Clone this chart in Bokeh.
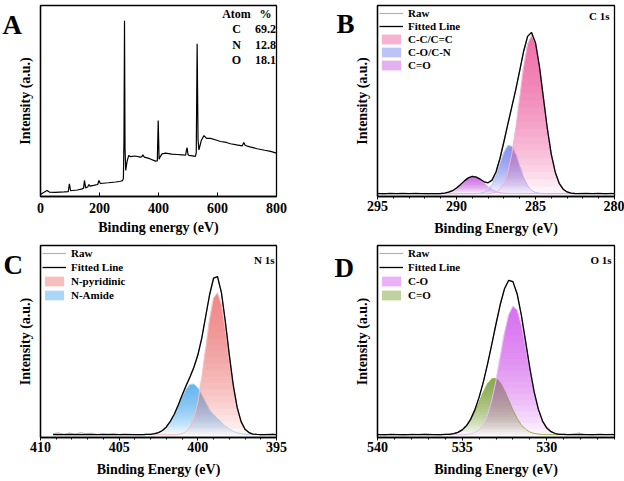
import numpy as np
from bokeh.plotting import figure
from bokeh.layouts import column, row
from bokeh.models import (Range1d, Label, Legend, LegendItem, FixedTicker,
                          SingleIntervalTicker)
from bokeh.embed import file_html
from bokeh.resources import INLINE

FONT = "Liberation Serif"

# ---------------- Panel A: survey spectrum ----------------
survey_be = [0, 8, 22, 30, 50, 80, 94, 98, 102, 125, 141, 146, 149, 153, 160, 164, 168, 180, 194, 198,
             203, 230, 255, 271, 278, 281, 283, 284.8, 286.5, 289, 293, 299, 305, 320, 339, 344, 347, 352, 370, 390,
             396, 399, 402, 405, 412, 424, 445, 463, 480, 492, 495, 497, 500, 503, 515, 525, 528, 531, 534, 537,
             545, 554, 563, 576, 595, 610, 630, 644, 665, 684, 689, 694, 710, 734, 760, 780, 800]
survey_int = [1.0, 1.8, 3.1, 2.3, 2.2, 2.4, 2.6, 6.6, 3.0, 3.4, 4.0, 4.4, 8.4, 4.5, 5.0, 6.3, 5.4, 5.8, 6.3, 8.4,
              6.8, 7.2, 7.6, 8.0, 8.3, 9.5, 30, 92, 25, 13.6, 18, 21.5, 20.9, 21.2, 20.6, 20.9, 21.8, 20.6, 19.8, 18.5,
              18.6, 39.8, 19.5, 20.6, 22.3, 22.7, 22.2, 22.0, 21.8, 21.6, 24.5, 25.5, 22.0, 21.5, 21.3, 21.0, 23.0, 80, 30, 24.4,
              29.3, 31.9, 30.4, 30.4, 29.6, 28.8, 28.3, 27.6, 27.0, 26.5, 28.3, 26.7, 26.0, 25.0, 24.2, 23.6, 22.7]
atoms = ["C", "N", "O"]
atom_pct = ["69.2", "12.8", "18.1"]

# ---------------- Panel B: C 1s ----------------
c1s_be = [292.0, 291.75, 291.5, 291.25, 291.0, 290.75, 290.5, 290.25, 290.0, 289.75, 289.5, 289.25, 289.0,
          288.75, 288.5, 288.25, 288.0, 287.75, 287.5, 287.25, 287.0, 286.75, 286.5, 286.25, 286.0, 285.75,
          285.5, 285.25, 285.0, 284.75, 284.5, 284.25, 284.0, 283.75, 283.5, 283.25, 283.0, 282.75, 282.5]
c1s_cc = [0, 0, 0, 0, 0, 0, 0, 0, 0, 0, 0, 0, 0, 0, 0, 0, 0, 0.3, 0.9, 2.4, 5.5, 11.4, 20.9, 34.5, 50.9, 67.3,
          79.5, 84.0, 79.5, 67.3, 50.9, 34.5, 20.9, 11.4, 5.5, 2.4, 0.9, 0.3, 0.1]
c1s_co = [0, 0, 0, 0, 0, 0, 0, 0, 0, 0, 0, 0, 0, 0, 0.2, 0.7, 2.1, 4.8, 9.5, 15.8, 21.9, 25.6, 25.2, 20.8, 14.5,
          8.4, 4.1, 1.7, 0.6, 0.2, 0, 0, 0, 0, 0, 0, 0, 0, 0]
c1s_cdo = [0, 0, 0, 0, 0.1, 0.3, 0.8, 1.6, 3.0, 4.8, 6.8, 8.4, 9.2, 8.8, 7.5, 5.6, 3.7, 2.1, 1.1, 0.5, 0.2,
           0, 0, 0, 0, 0, 0, 0, 0, 0, 0, 0, 0, 0, 0, 0, 0, 0, 0]
c1s_raw_left_be = [295.0, 294.6, 294.2, 293.8, 293.4, 293.0, 292.6, 292.25]
c1s_raw_left = [0.3, -0.2, 0.4, 0.0, 0.5, 0.1, 0.4, 0.1]
c1s_raw_right_be = [282.25, 281.8, 281.4, 281.0, 280.6, 280.2, 280.0]
c1s_raw_right = [0.2, 0.5, 0.0, 0.4, -0.1, 0.3, 0.2]

# ---------------- Panel C: N 1s ----------------
n1s_be = [404.0, 403.75, 403.5, 403.25, 403.0, 402.75, 402.5, 402.25, 402.0, 401.75, 401.5, 401.25, 401.0,
          400.75, 400.5, 400.25, 400.0, 399.75, 399.5, 399.25, 399.0, 398.75, 398.5, 398.25, 398.0, 397.75,
          397.5, 397.25, 397.0, 396.75, 396.5, 396.25, 396.0, 395.75]
n1s_pyr = [0, 0, 0, 0, 0, 0, 0, 0, 0, 0, 0, 0.2, 0.6, 1.6, 3.9, 8.8, 17.3, 30.0, 45.6, 61.1, 72.2, 75.0, 68.6,
           55.2, 39.2, 24.4, 13.4, 6.4, 2.7, 1.1, 0.3, 0.1, 0, 0]
n1s_amide = [0, 0, 0, 0.1, 0.2, 0.5, 1.1, 2.2, 4.1, 7.0, 10.8, 15.4, 20.2, 24.2, 26.6, 26.8, 24.8, 21.0, 17.0,
             13.0, 10.5, 8.5, 6.5, 4.5, 3.0, 1.8, 1.0, 0.5, 0.2, 0, 0, 0, 0, 0]
n1s_raw_left_be = [409.2, 408.85, 408.5, 408.15, 407.8, 407.45, 407.1, 406.75, 406.4, 406.05, 405.7, 405.35,
                   405.0, 404.65, 404.3]
n1s_raw_left = [0.4, 0.9, 0.2, 0.8, 0.3, 1.0, 0.5, 0.7, 0.1, 0.6, 0.3, 0.5, 0.1, 0.4, 0.2]
n1s_raw_right_be = [395.5, 395.25, 395.0]
n1s_raw_right = [0.3, 0.6, 0.2]

# ---------------- Panel D: O 1s ----------------
o1s_be = [536.5, 536.25, 536.0, 535.75, 535.5, 535.25, 535.0, 534.75, 534.5, 534.25, 534.0, 533.75, 533.5,
          533.25, 533.0, 532.75, 532.5, 532.25, 532.0, 531.75, 531.5, 531.25, 531.0, 530.75, 530.5, 530.25,
          530.0, 529.75, 529.5, 529.25, 529.0, 528.75]
o1s_co = [0, 0, 0, 0, 0, 0, 0, 0.1, 0.4, 1.1, 2.6, 5.4, 10.4, 18.2, 28.7, 41.2, 53.7, 63.4, 67.9, 65.9, 58.0,
          46.4, 33.6, 22.1, 13.2, 7.1, 3.5, 1.6, 0.6, 0.2, 0.1, 0]
o1s_cdo = [0, 0, 0.1, 0.2, 0.6, 1.2, 2.5, 4.6, 7.7, 12.0, 17.1, 22.4, 26.9, 29.5, 29.8, 27.6, 23.4, 18.2, 13.0,
           8.5, 5.1, 2.8, 1.4, 0.7, 0.3, 0.1, 0, 0, 0, 0, 0, 0]
o1s_raw_left_be = [540.0, 539.6, 539.2, 538.8, 538.4, 538.0, 537.6, 537.2, 536.8]
o1s_raw_left = [0.2, -0.3, 0.4, 0.0, -0.2, 0.3, 0.1, 0.5, 0.2]
o1s_raw_right_be = [528.5, 528.1, 527.7, 527.3, 526.9, 526.5, 526.1]
o1s_raw_right = [0.3, 0.8, 0.1, -0.2, 0.4, 0.0, 0.3]


def make_fig(xr, yr, fw, fh, bl, br, bt, bb, interval, minor, tick_in):
    p = figure(frame_width=fw, frame_height=fh, x_range=Range1d(*xr), y_range=Range1d(*yr),
               output_backend="svg", toolbar_location=None,
               min_border_left=bl, min_border_right=br, min_border_top=bt, min_border_bottom=bb)
    p.grid.visible = False
    p.background_fill_color = "white"
    p.border_fill_color = "white"
    p.outline_line_color = "black"
    p.outline_line_width = 1.3
    p.outline_line_alpha = 1.0
    xa = p.xaxis[0]
    xa.ticker = SingleIntervalTicker(interval=interval, num_minor_ticks=minor)
    xa.axis_line_width = 1.3
    xa.major_label_text_font = FONT
    xa.major_label_text_font_style = "bold"
    xa.major_label_text_font_size = "14px"
    xa.major_label_text_color = "black"
    xa.axis_label_text_font = FONT
    xa.axis_label_text_font_style = "bold"
    xa.axis_label_text_font_size = "14px"
    xa.axis_label_text_color = "black"
    if tick_in:
        xa.major_tick_in = 4
        xa.major_tick_out = 0
        xa.minor_tick_line_color = None
        xa.major_label_standoff = 6
        xa.axis_label_standoff = 4
    else:
        xa.major_tick_in = 0
        xa.major_tick_out = 3
        xa.minor_tick_in = 0
        xa.minor_tick_out = 2
        xa.major_label_standoff = 1
        xa.axis_label_standoff = 7
    ya = p.yaxis[0]
    ya.ticker = FixedTicker(ticks=[])
    ya.major_label_text_font_size = "0px"
    ya.major_label_standoff = 0
    ya.major_tick_in = 0
    ya.major_tick_out = 0
    ya.minor_tick_in = 0
    ya.minor_tick_out = 0
    ya.axis_line_width = 1.3
    ya.axis_label = "Intensity (a.u.)"
    ya.axis_label_text_font = FONT
    ya.axis_label_text_font_style = "bold"
    ya.axis_label_text_font_size = "14px"
    ya.axis_label_text_color = "black"
    ya.axis_label_standoff = 8
    p._geom = (bl, bt, fw, fh, xr, yr)
    return p


def add_text(p, text, x, y, size, align="left", baseline="alphabetic"):
    p.add_layout(Label(x=x, y=y, x_units="screen", y_units="screen", text=text,
                       text_font=FONT, text_font_style="bold", text_font_size=size,
                       text_align=align, text_baseline=baseline, text_color="black"))


def add_panel_letter(p, letter, px, py, side):
    # px, py: canvas pixel position (relative to the figure) of the letter's left / baseline
    bl, bt, fw, fh, xr, yr = p._geom
    x = xr[0] + (px - bl) / fw * (xr[1] - xr[0])
    y = yr[0] + (bt + fh - py) / fh * (yr[1] - yr[0])
    p.add_layout(Label(x=x, y=y, text=letter, text_font=FONT, text_font_style="bold",
                       text_font_size="27px", text_align="left", text_baseline="alphabetic",
                       text_color="black"), side)


def add_component(p, x, y, color, line_color, n=22, alpha=0.07):
    ya = np.asarray(y, dtype=float)
    h = ya.max()
    layers = []
    for i in range(n):
        t = h * i / n
        r = p.varea(x=x, y1=t, y2=np.maximum(ya, t), fill_color=color, fill_alpha=alpha)
        layers.append(r)
    p.line(x, ya, line_color=line_color, line_width=1)
    return layers


def build_xps(p, be, comps, colors, line_colors, names, raw_l, raw_r, x_ends, spacing):
    be = list(be)
    total = np.sum([np.asarray(c, dtype=float) for c in comps], axis=0)
    raw_x = list(raw_l[0]) + be + list(raw_r[0])
    raw_y = list(raw_l[1]) + list(total) + list(raw_r[1])
    raw = p.line(raw_x, raw_y, line_color="#b0b0b0", line_width=1.2)
    layer_sets = []
    for c, col, lc in zip(comps, colors, line_colors):
        layer_sets.append(add_component(p, be, c, col, lc))
    fit_x = [x_ends[0]] + be + [x_ends[1]]
    fit_y = [0.0] + list(total) + [0.0]
    fit = p.line(fit_x, fit_y, line_color="black", line_width=1.3)
    items = [LegendItem(label="Raw", renderers=[raw]),
             LegendItem(label="Fitted Line", renderers=[fit])]
    for nm, ls in zip(names, layer_sets):
        items.append(LegendItem(label=nm, renderers=ls[:8]))
    leg = Legend(items=items, location="top_left", margin=2, padding=1, spacing=spacing,
                 glyph_width=24, glyph_height=12, label_height=12, label_standoff=5,
                 label_text_font=FONT, label_text_font_style="bold", label_text_font_size="11px",
                 label_text_color="black", border_line_color=None, background_fill_alpha=0.0)
    p.add_layout(leg)


# Panel A
pA = make_fig((0, 800), (0, 100), 236, 191, 40, 36, 5, 44, 200, 0, True)
pA.xaxis.axis_label = "Binding energy (eV)"
pA.line(survey_be, survey_int, line_color="black", line_width=1.2)
add_text(pA, "Atom", 196, 182.5, "12px", "center", "middle")
add_text(pA, "%", 225, 182.5, "12px", "center", "middle")
for i, (a, v) in enumerate(zip(atoms, atom_pct)):
    yy = 167.5 - 15.5 * i
    add_text(pA, a, 196, yy, "12px", "center", "middle")
    add_text(pA, v, 225, yy, "12px", "center", "middle")
add_panel_letter(pA, "A", 2, 24, "right")

# Panel B
pB = make_fig((295, 280), (-1.5, 100), 237, 191, 65, 10, 5, 44, 5, 5, False)
pB.xaxis.axis_label = "Binding Energy (eV)"
build_xps(pB, c1s_be, [c1s_cdo, c1s_co, c1s_cc], ["#c84ee8", "#6f7ff0", "#ee5596"],
          ["#e2b4f0", "#bcc3f2", "#f3b6cf"], ["C=O", "C-O/C-N", "C-C/C=C"],
          (c1s_raw_left_be, c1s_raw_left), (c1s_raw_right_be, c1s_raw_right), (295.0, 280.0), 1)
lg = pB.legend[0]
lg.items = [lg.items[0], lg.items[1], lg.items[4], lg.items[3], lg.items[2]]
add_text(pB, "C 1s", 232, 187, "11px", "right", "top")
add_panel_letter(pB, "B", 24, 23, "left")

# Panel C
pC = make_fig((410, 395), (-1.5, 100), 236, 192, 40, 36, 5, 44, 5, 5, False)
pC.xaxis.axis_label = "Binding Energy (eV)"
build_xps(pC, n1s_be, [n1s_amide, n1s_pyr], ["#4aa8ee", "#f07070"], ["#b9dcf5", "#f5c0c0"],
          ["N-Amide", "N-pyridinic"], (n1s_raw_left_be, n1s_raw_left), (n1s_raw_right_be, n1s_raw_right),
          (409.2, 395.0), 2)
lg = pC.legend[0]
lg.items = [lg.items[0], lg.items[1], lg.items[3], lg.items[2]]
add_text(pC, "N 1s", 234, 184, "11px", "right", "top")
add_panel_letter(pC, "C", 3, 24, "right")

# Panel D
pD = make_fig((540, 526), (-1.5, 100), 237, 192, 65, 10, 5, 44, 5, 5, False)
pD.xaxis.axis_label = "Binding Energy (eV)"
build_xps(pD, o1s_be, [o1s_cdo, o1s_co], ["#6e9a30", "#d64ef0"], ["#9ab84a", "#e8c0f2"],
          ["C=O", "C-O"], (o1s_raw_left_be, o1s_raw_left), (o1s_raw_right_be, o1s_raw_right),
          (540.0, 526.0), 2)
lg = pD.legend[0]
lg.items = [lg.items[0], lg.items[1], lg.items[3], lg.items[2]]
add_text(pD, "O 1s", 234, 184, "11px", "right", "top")
add_panel_letter(pD, "D", 22, 27, "left")

layout = column(row(pA, pB, spacing=0), row(pC, pD, spacing=0), spacing=0)
open("out.html", "w").write(file_html(layout, INLINE))
